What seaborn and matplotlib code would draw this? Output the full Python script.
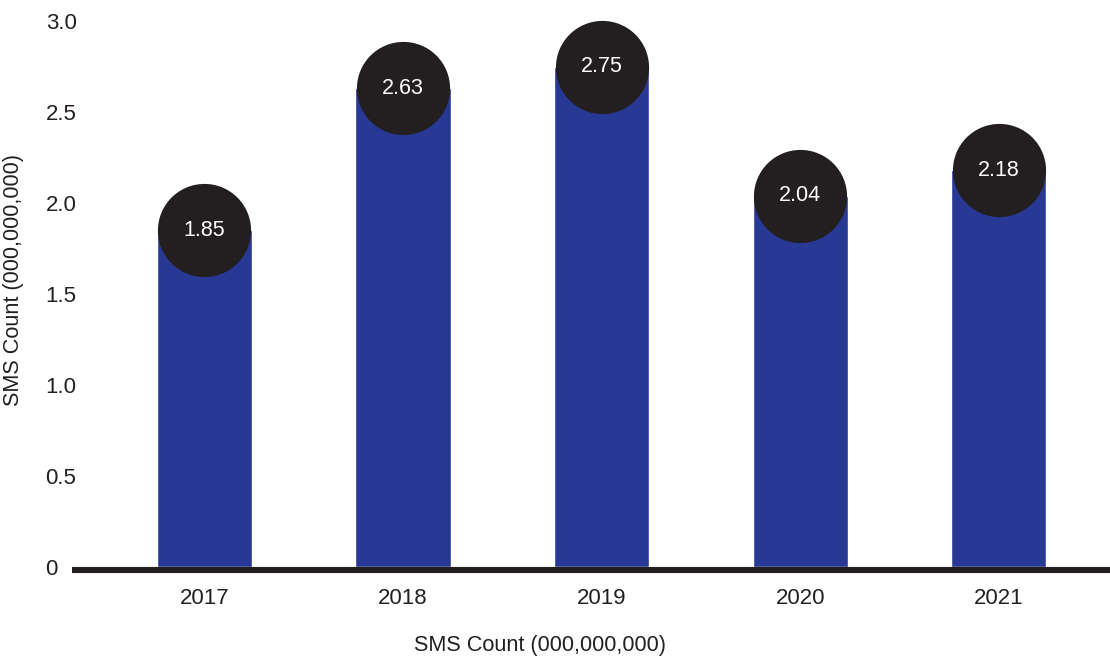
import numpy as np
import matplotlib
matplotlib.use("Agg")
import matplotlib.pyplot as plt
import seaborn as sns

# Annual SMS volume (billions)
years = ["2017", "2018", "2019", "2020", "2021"]
sms_counts = [1.85, 2.63, 2.75, 2.04, 2.18]
y_ticks = [0, 0.5, 1.0, 1.5, 2.0, 2.5, 3.0]
y_tick_labels = ["0", "0.5", "1.0", "1.5", "2.0", "2.5", "3.0"]

BAR = "#283895"
INK = "#231f20"

sns.set_theme(style="white")
plt.rcParams["font.family"] = ["Liberation Sans", "DejaVu Sans"]

fig = plt.figure(figsize=(11.1, 6.57), dpi=100)
ax = fig.add_axes([72 / 1110, 90 / 657, 1 - 72 / 1110, 546 / 657])

pos = np.arange(len(years))
sns.barplot(x=pos, y=sms_counts, color=BAR, width=0.48, saturation=1,
            native_scale=True, ax=ax, zorder=2)

# value bubbles sitting on the bar tops
sns.scatterplot(x=pos, y=sms_counts, s=4500, color=INK, linewidth=0,
                ax=ax, zorder=3, clip_on=False, legend=False)
for x, v in zip(pos, sms_counts):
    ax.text(x, v, f"{v:.2f}", ha="center", va="center", color="white",
            fontsize=15.5, zorder=4)

ax.set_xlim(-0.667, 4.56)
ax.set_ylim(0, 3.0)
ax.set_xticks(pos, labels=years)
ax.set_yticks(y_ticks, labels=y_tick_labels)
for lab in ax.get_yticklabels():
    lab.set_horizontalalignment("left")
ax.tick_params(axis="both", labelsize=16, labelcolor=INK, length=0)
ax.tick_params(axis="y", pad=19)
ax.tick_params(axis="x", pad=13)
ax.set_xlabel("")
ax.set_ylabel("")

for side in ["top", "right", "left"]:
    ax.spines[side].set_visible(False)
ax.spines["bottom"].set_color(INK)
ax.spines["bottom"].set_linewidth(4.4)
ax.spines["bottom"].set_capstyle("butt")
ax.spines["bottom"].set_position(("outward", 2.2))
ax.spines["bottom"].set_zorder(5)
ax.grid(False)

fig.text(540 / 1110, 1 - 645 / 657, "SMS Count (000,000,000)", ha="center",
         va="center", fontsize=15.6, color=INK)
fig.text(14 / 1110, 1 - 280 / 657, "SMS Count (000,000,000)", ha="center",
         va="center", rotation=90, fontsize=15.6, color=INK)

fig.savefig("out.png", dpi=100, facecolor="white")
